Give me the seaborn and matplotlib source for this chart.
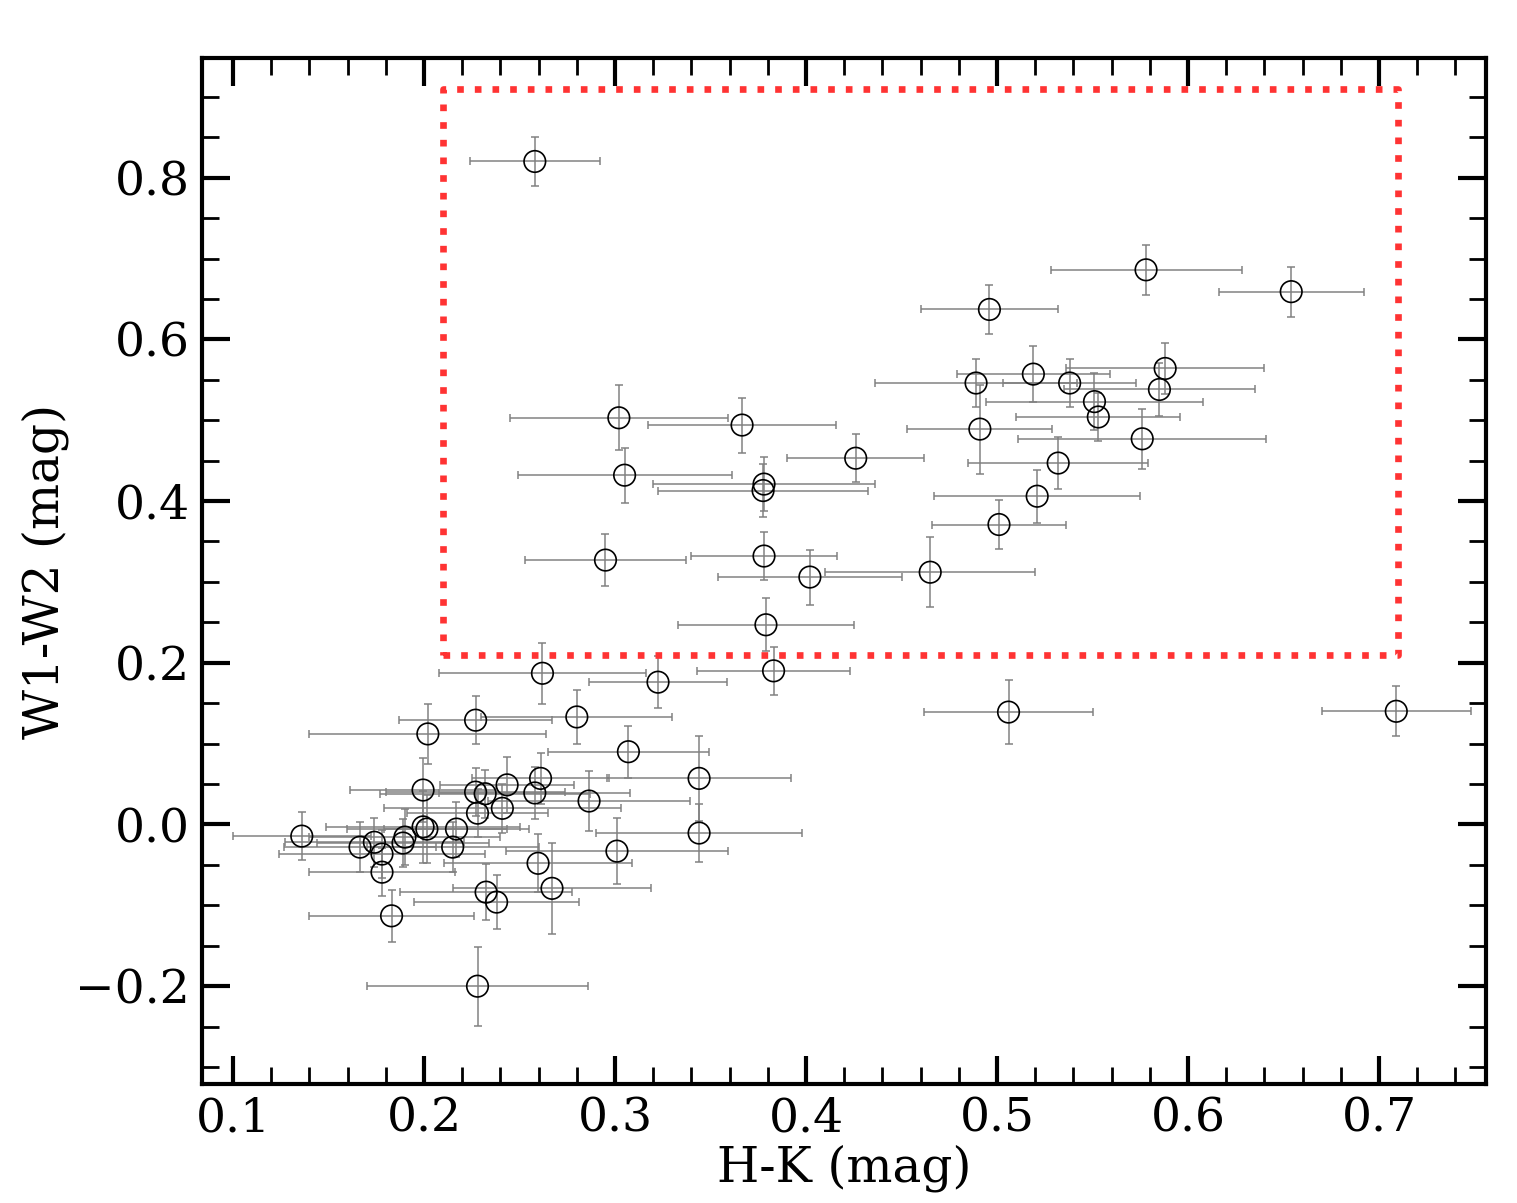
import numpy as np
import pandas as pd
import matplotlib
matplotlib.use("Agg")
import matplotlib.pyplot as plt
import seaborn as sns
from matplotlib.ticker import MultipleLocator

# H-K colour (mag)
hk = [0.258, 0.578, 0.654, 0.496, 0.489, 0.519, 0.538, 0.588, 0.585, 0.551,
      0.553, 0.491, 0.576, 0.532, 0.521, 0.501, 0.465, 0.302, 0.3665, 0.426,
      0.305, 0.378, 0.3775, 0.295, 0.378, 0.402, 0.379, 0.262, 0.3225, 0.383,
      0.506, 0.709, 0.227, 0.280, 0.202, 0.307, 0.344, 0.344, 0.301, 0.2864,
      0.2597, 0.267, 0.2325, 0.238, 0.261, 0.258, 0.2435, 0.232, 0.227, 0.241,
      0.228, 0.217, 0.215, 0.1995, 0.1995, 0.2015, 0.190, 0.189, 0.183, 0.178,
      0.178, 0.174, 0.1665, 0.136, 0.228]
# W1-W2 colour (mag)
w12 = [0.820, 0.686, 0.659, 0.637, 0.546, 0.557, 0.546, 0.564, 0.538, 0.523,
       0.504, 0.489, 0.477, 0.447, 0.406, 0.371, 0.312, 0.503, 0.494, 0.453,
       0.432, 0.421, 0.413, 0.327, 0.332, 0.306, 0.247, 0.187, 0.176, 0.190,
       0.139, 0.140, 0.129, 0.133, 0.112, 0.090, 0.057, -0.0106, -0.033, 0.029,
       -0.048, -0.079, -0.0837, -0.096, 0.057, 0.039, 0.049, 0.038, 0.040, 0.020,
       0.014, -0.0057, -0.028, 0.0426, -0.003, -0.0057, -0.0156, -0.023, -0.113, -0.059,
       -0.0366, -0.022, -0.028, -0.0144, -0.200]
# H-K errors
hk_err = [0.034, 0.050, 0.038, 0.036, 0.053, 0.040, 0.035, 0.052, 0.050, 0.057,
          0.043, 0.038, 0.065, 0.047, 0.054, 0.035, 0.055, 0.057, 0.049, 0.036,
          0.056, 0.058, 0.055, 0.042, 0.038, 0.048, 0.046, 0.054, 0.036, 0.040,
          0.044, 0.039, 0.040, 0.050, 0.062, 0.042, 0.048, 0.054, 0.058, 0.053,
          0.049, 0.052, 0.045, 0.043, 0.036, 0.050, 0.035, 0.055, 0.047, 0.062,
          0.037, 0.038, 0.045, 0.038, 0.051, 0.042, 0.050, 0.045, 0.043, 0.038,
          0.054, 0.047, 0.040, 0.036, 0.058]
# W1-W2 errors
w12_err = [0.030, 0.031, 0.031, 0.030, 0.030, 0.035, 0.030, 0.031, 0.033, 0.035,
           0.030, 0.055, 0.037, 0.032, 0.033, 0.030, 0.043, 0.040, 0.034, 0.030,
           0.034, 0.033, 0.033, 0.032, 0.030, 0.034, 0.033, 0.038, 0.032, 0.030,
           0.040, 0.031, 0.030, 0.033, 0.037, 0.032, 0.053, 0.036, 0.041, 0.037,
           0.036, 0.056, 0.035, 0.033, 0.032, 0.032, 0.035, 0.030, 0.030, 0.030,
           0.030, 0.034, 0.031, 0.040, 0.045, 0.042, 0.035, 0.030, 0.032, 0.030,
           0.030, 0.030, 0.031, 0.030, 0.049]

# selection box (H-K range, W1-W2 range)
box_x = [0.21, 0.71]
box_y = [0.21, 0.91]

df = pd.DataFrame({"hk": hk, "w12": w12, "hk_err": hk_err, "w12_err": w12_err})

sns.set_style("ticks")
plt.rcParams["font.family"] = ["DejaVu Serif"]
plt.rcParams["mathtext.fontset"] = "dejavuserif"
plt.rcParams["text.color"] = "black"
plt.rcParams["axes.labelcolor"] = "black"
plt.rcParams["xtick.color"] = "black"
plt.rcParams["ytick.color"] = "black"

fig = plt.figure(figsize=(15.17, 12.03), dpi=100)
ax = fig.add_axes([0.1332, 0.0989, 0.9796 - 0.1332, 0.9518 - 0.0989])

ax.errorbar(df["hk"], df["w12"], xerr=df["hk_err"], yerr=df["w12_err"],
            fmt="none", ecolor="#808080", elinewidth=1.2, capsize=3.2,
            capthick=1.2, alpha=0.9, zorder=2)
sns.scatterplot(data=df, x="hk", y="w12", ax=ax, marker="o", s=15.5 ** 2,
                facecolor="none", edgecolor="black", linewidth=1.2, zorder=3)

ax.plot([box_x[0], box_x[1], box_x[1], box_x[0], box_x[0]],
        [box_y[0], box_y[0], box_y[1], box_y[1], box_y[0]],
        color="#ff3333", linestyle=":", linewidth=4.8, zorder=4)

ax.set_xlim(0.0838, 0.756)
ax.set_ylim(-0.321, 0.948)
ax.xaxis.set_major_locator(MultipleLocator(0.1))
ax.xaxis.set_minor_locator(MultipleLocator(0.02))
ax.yaxis.set_major_locator(MultipleLocator(0.2))
ax.yaxis.set_minor_locator(MultipleLocator(0.05))
ax.tick_params(which="both", direction="in", top=True, right=True,
               labelsize=34, pad=9, colors="black")
ax.tick_params(which="major", length=20, width=3)
ax.tick_params(which="minor", length=12, width=2)
for s in ax.spines.values():
    s.set_linewidth(3)
    s.set_color("black")

ax.set_xlabel("H-K (mag)", fontsize=35, labelpad=2, color="black")
ax.set_ylabel("W1-W2 (mag)", fontsize=35, labelpad=4, color="black")

fig.savefig("out.png", dpi=100)
